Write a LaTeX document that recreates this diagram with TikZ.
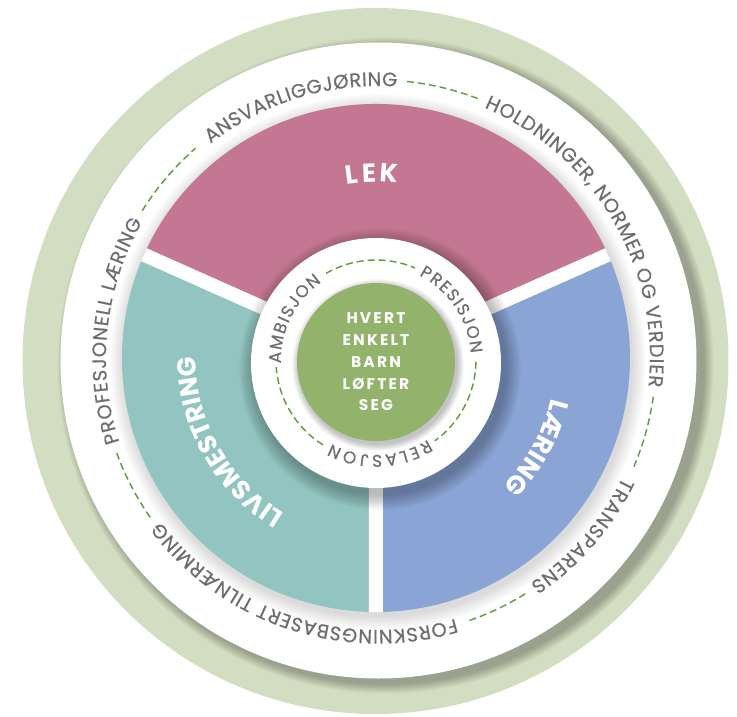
\documentclass[tikz,border=0pt]{standalone}
\usepackage{fontspec}
\setmainfont{Poppins}
\newfontfamily\ringfam{Poppins}[FakeBold=0.5]
\usetikzlibrary{decorations.text}
\definecolor{ringgreen}{HTML}{D3DDC1}
\definecolor{lekpink}{HTML}{C47792}
\definecolor{livteal}{HTML}{92C5C1}
\definecolor{laerblue}{HTML}{8AA4D5}
\definecolor{coregreen}{HTML}{93B26B}
\definecolor{dashgreen}{HTML}{5E9A3A}
\definecolor{labelgray}{HTML}{6D6E71}
\newcommand{\outerfnt}{\ringfam\fontsize{19.5}{23}\selectfont}
\newcommand{\innerfnt}{\ringfam\fontsize{17}{20}\selectfont}
\newcommand{\sectorfnt}{\bfseries\fontsize{26}{30}\selectfont}
% soft shadow: #1 coordinate, #2 dx, #3 dy, #4 radius, #5 spread, #6 opacity per layer
\newcommand{\softshadow}[6]{%
  \foreach \k in {1,...,12}{%
    \fill[black,opacity=#6] ([shift={(#2pt,#3pt)}]#1) circle[radius={#4pt+#5pt*\k/12}];
  }%
}
\tikzset{
  outertext/.style={decorate, decoration={text along path, text align={fit to path},
      text color=labelgray, text={#1}}},
  sectortext/.style={decorate, decoration={text along path, text align={fit to path},
      text color=white, text={#1}}},
  dashline/.style={draw=dashgreen, line width=1.4pt, dash pattern=on 7pt off 4pt},
}
\begin{document}
\begin{tikzpicture}
\useasboundingbox (-377pt,-356pt) rectangle (360pt,360pt);
\fill[white] (-377pt,-356pt) rectangle (360pt,360pt);
\coordinate (gc) at (-1.5pt,-1pt);   % outer green ring
\coordinate (wc) at (1.5pt,-0.5pt);  % big white disk
\coordinate (oc) at (1pt,2pt);       % outer text ring
\coordinate (sc) at (-1pt,2pt);      % sectors
\coordinate (ic) at (-1pt,-3pt);     % inner white disk
\coordinate (cc) at (-1pt,-2pt);     % green core
\coordinate (tc) at (-1pt,0pt);      % inner text ring

% outer green ring
\fill[ringgreen] (gc) circle[radius=353pt];
\softshadow{wc}{7}{-5}{318}{10}{0.022}
\fill[white] (wc) circle[radius=318pt];

% sectors
\softshadow{sc}{2}{-4}{254}{14}{0.012}
\fill[lekpink] (sc) -- ([shift={(24:254pt)}]sc) arc[start angle=24,end angle=156,radius=254pt] -- cycle;
\fill[livteal] (sc) -- ([shift={(156:254pt)}]sc) arc[start angle=156,end angle=270,radius=254pt] -- cycle;
\fill[laerblue] (sc) -- ([shift={(270:254pt)}]sc) arc[start angle=270,end angle=384,radius=254pt] -- cycle;
\coordinate (g1) at ([shift={(24:254pt)}]sc);
\coordinate (g2) at ([shift={(156:254pt)}]sc);
\coordinate (g3) at ([shift={(270:254pt)}]sc);
\draw[white, line width=14pt] (sc) -- (g1) (sc) -- (g2) (sc) -- (g3);

% inner white disk
\softshadow{ic}{4}{-6}{125}{16}{0.022}
\fill[white] (ic) circle[radius=125pt];

% green core
\softshadow{cc}{2}{-3}{79}{7}{0.02}
\fill[coregreen] (cc) circle[radius=79pt];
\node[text=white, font=\bfseries\addfontfeatures{LetterSpace=14}\fontsize{15.5}{21.8}\selectfont, align=center] (core) at (cc) {HVERT\\ENKELT\\BARN\\LØFTER\\SEG};

% sector labels
\begin{scope}
\sectorfnt
\path[sectortext={LEK}] ([shift={(99.5:176pt)}]sc) arc[start angle=99.5,end angle=83,radius=176pt];
\path[sectortext={LIVSMESTRING}] ([shift={(239.5:180pt)}]sc) arc[start angle=239.5,end angle=182,radius=180pt];
\path[sectortext={LÆRING}] ([shift={(-13:180pt)}]sc) arc[start angle=-13,end angle=-43,radius=180pt];
\end{scope}

% outer ring texts
\begin{scope}
\outerfnt
\path[outertext={ANSVARLIGGJØRING}] ([shift={(128:272pt)}]oc) arc[start angle=128,end angle=86,radius=272pt];
\path[outertext={HOLDNINGER, NORMER OG VERDIER}] ([shift={(67:272pt)}]oc) arc[start angle=67,end angle=-6,radius=272pt];
\path[outertext={TRANSPARENS}] ([shift={(-26:272pt)}]oc) arc[start angle=-26,end angle=-56,radius=272pt];
\path[outertext={FORSKNINGSBASERT TILNÆRMING}] ([shift={(-73.5:272pt)}]oc) arc[start angle=-73.5,end angle=-143,radius=272pt];
\path[outertext={PROFESJONELL LÆRING}] ([shift={(198:272pt)}]oc) arc[start angle=198,end angle=150,radius=272pt];
\end{scope}
% outer dashes
\draw[dashline] ([shift={(84:278pt)}]oc) arc[start angle=84,end angle=69,radius=278pt];
\draw[dashline] ([shift={(-8:278pt)}]oc) arc[start angle=-8,end angle=-23,radius=278pt];
\draw[dashline] ([shift={(-58:278pt)}]oc) arc[start angle=-58,end angle=-71.5,radius=278pt];
\draw[dashline] ([shift={(-145:278pt)}]oc) arc[start angle=-145,end angle=-160,radius=278pt];
\draw[dashline] ([shift={(148:278pt)}]oc) arc[start angle=148,end angle=131,radius=278pt];

% inner ring texts
\begin{scope}
\innerfnt
\path[outertext={AMBISJON}] ([shift={(182:95pt)}]tc) arc[start angle=182,end angle=125,radius=95pt];
\path[outertext={PRESISJON}] ([shift={(63:95pt)}]tc) arc[start angle=63,end angle=4,radius=95pt];
\path[outertext={RELASJON}] ([shift={(-57:95pt)}]tc) arc[start angle=-57,end angle=-118,radius=95pt];
\end{scope}
% inner dashes
\draw[dashline] ([shift={(120:100pt)}]tc) arc[start angle=120,end angle=67,radius=100pt];
\draw[dashline] ([shift={(-1:100pt)}]tc) arc[start angle=-1,end angle=-54,radius=100pt];
\draw[dashline] ([shift={(-122:100pt)}]tc) arc[start angle=-122,end angle=-176,radius=100pt];
\end{tikzpicture}
\end{document}
